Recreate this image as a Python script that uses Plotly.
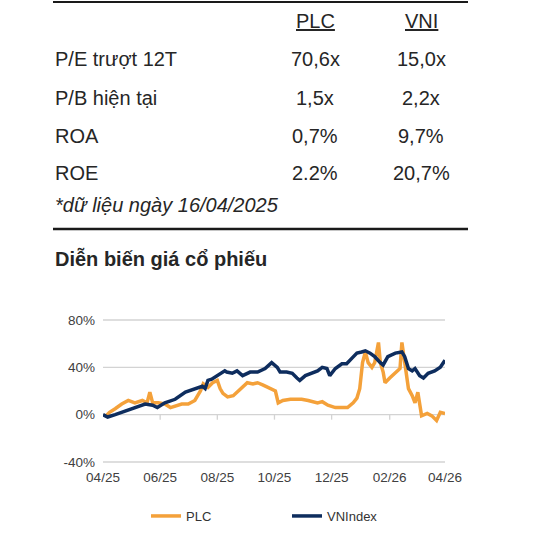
import pandas as pd
import plotly.graph_objects as go

# ---------------- data ----------------
table_rows = ["P/E trượt 12T", "P/B hiện tại", "ROA", "ROE"]
plc_vals = ["70,6x", "1,5x", "0,7%", "2.2%"]
vni_vals = ["15,0x", "2,2x", "9,7%", "20,7%"]
col_heads = ["PLC", "VNI"]
footnote = "*dữ liệu ngày 16/04/2025"
chart_title = "Diễn biến giá cổ phiếu"

vni_dates = ["2025-04-16", "2025-04-21", "2025-04-29", "2025-05-09", "2025-05-20", "2025-05-31",
             "2025-06-08", "2025-06-13", "2025-06-21", "2025-07-02", "2025-07-13", "2025-07-23",
             "2025-07-31", "2025-08-03", "2025-08-06", "2025-08-10", "2025-08-16", "2025-08-21",
             "2025-08-24", "2025-08-26", "2025-09-01", "2025-09-06", "2025-09-12", "2025-09-20",
             "2025-09-28", "2025-10-06", "2025-10-13", "2025-10-19", "2025-10-22", "2025-10-29",
             "2025-11-04", "2025-11-09", "2025-11-12", "2025-11-18", "2025-11-25", "2025-12-01",
             "2025-12-06", "2025-12-11", "2025-12-14", "2025-12-20", "2025-12-27", "2026-01-01",
             "2026-01-07", "2026-01-12", "2026-01-17", "2026-01-21", "2026-01-26", "2026-01-31",
             "2026-02-06", "2026-02-09", "2026-02-14", "2026-02-22", "2026-03-01", "2026-03-04",
             "2026-03-08", "2026-03-12", "2026-03-15", "2026-03-20", "2026-03-24", "2026-03-29",
             "2026-04-05", "2026-04-11", "2026-04-16"]
vni_vals_ts = [0, -2, 0, 3, 6, 9,
               8, 6, 10, 13, 19, 22,
               24, 22, 29, 30, 33, 35,
               37, 36, 35, 37, 33, 36,
               36, 39, 44, 40, 36, 36,
               35, 31, 29, 33, 35, 37,
               40, 39, 33, 39, 43, 43,
               48, 52, 53, 54, 52, 49,
               44, 42, 49, 52, 53, 49,
               39, 37, 39, 33, 31, 35,
               37, 40, 46]

plc_dates = ["2025-04-18", "2025-04-23", "2025-04-29", "2025-05-06", "2025-05-13", "2025-05-20",
             "2025-05-28", "2025-06-02", "2025-06-05", "2025-06-08", "2025-06-14", "2025-06-21",
             "2025-06-27", "2025-07-02", "2025-07-09", "2025-07-16", "2025-07-23", "2025-07-29",
             "2025-08-01", "2025-08-06", "2025-08-11", "2025-08-16", "2025-08-19", "2025-08-22",
             "2025-08-27", "2025-09-02", "2025-09-07", "2025-09-12", "2025-09-17", "2025-09-23",
             "2025-09-28", "2025-10-04", "2025-10-11", "2025-10-17", "2025-10-20", "2025-10-25",
             "2025-11-02", "2025-11-07", "2025-11-14", "2025-11-21", "2025-11-27", "2025-12-01",
             "2025-12-06", "2025-12-12", "2025-12-20", "2025-12-27", "2026-01-02", "2026-01-08",
             "2026-01-12", "2026-01-15", "2026-01-18", "2026-01-21", "2026-01-24", "2026-01-28",
             "2026-01-31", "2026-02-04", "2026-02-06", "2026-02-09", "2026-02-11", "2026-02-16",
             "2026-02-22", "2026-02-27", "2026-03-01", "2026-03-04", "2026-03-08", "2026-03-12",
             "2026-03-15", "2026-03-18", "2026-03-22", "2026-03-28", "2026-04-02", "2026-04-07",
             "2026-04-11", "2026-04-16"]
plc_vals_ts = [-2, 2, 5, 9, 12, 10,
               12, 10, 19, 10, 10, 9,
               6, 7, 9, 9, 12, 20,
               26, 23, 27, 29, 22, 18,
               15, 16, 20, 23, 27, 26,
               27, 25, 22, 20, 10, 12,
               13, 13, 13, 12, 11, 10,
               11, 8, 6, 6, 6, 10,
               14, 22, 44, 53, 44, 40,
               44, 61, 44, 36, 27, 31,
               35, 39, 61, 44, 22, 16,
               10, 19, -1, 1, -1, -5,
               2, 1]

tick_dates = ["2025-04-16", "2025-06-16", "2025-08-16", "2025-10-16", "2025-12-16", "2026-02-16", "2026-04-16"]
tick_labels = ["04/25", "06/25", "08/25", "10/25", "12/25", "02/26", "04/26"]
y_ticks = [-40, 0, 40, 80]
y_tick_labels = ["-40%", "0%", "40%", "80%"]

# ---------------- styling ----------------
W, H = 559, 533
FONT = "Liberation Sans, Arial, sans-serif"
TXT = "#262626"
ORANGE = "#F4A13A"
NAVY = "#0E2D5E"
GRID = "#d3d3d3"

X_RANGE = [tick_dates[0], tick_dates[-1]]
Y_RANGE = [-40, 80]

def px(xp):
    return xp / W

def py(yp):
    return 1 - yp / H

y0, y1 = py(462), py(320)
x0, x1 = px(103), px(445)

# axis value -> paper fraction, following the axis domain and range set below
def y_to_paper(v):
    return y0 + (v - Y_RANGE[0]) / (Y_RANGE[1] - Y_RANGE[0]) * (y1 - y0)

def x_to_paper(d):
    t0, t1 = pd.Timestamp(X_RANGE[0]), pd.Timestamp(X_RANGE[1])
    return x0 + (pd.Timestamp(d) - t0) / (t1 - t0) * (x1 - x0)

fig = go.Figure()
fig.add_trace(go.Scatter(x=plc_dates, y=plc_vals_ts, mode="lines", name="PLC",
                         line=dict(color=ORANGE, width=3.5)))
fig.add_trace(go.Scatter(x=vni_dates, y=vni_vals_ts, mode="lines", name="VNIndex",
                         line=dict(color=NAVY, width=3.5)))

fig.update_layout(
    template="none",
    width=W, height=H, autosize=False,
    margin=dict(l=0, r=0, t=0, b=0, pad=0, autoexpand=False),
    paper_bgcolor="white", plot_bgcolor="rgba(0,0,0,0)",
    font=dict(family=FONT, color=TXT),
    showlegend=True,
    legend=dict(orientation="h", x=px(146), y=py(516), xanchor="left", yanchor="middle",
                font=dict(size=13, color="#333333", family=FONT),
                entrywidth=96, bgcolor="rgba(0,0,0,0)", borderwidth=0),
    xaxis=dict(domain=[x0, x1], range=X_RANGE, type="date",
               tickmode="array", tickvals=tick_dates, ticktext=tick_labels,
               showgrid=False, showline=False, zeroline=False, ticks="",
               ticklabelstandoff=5,
               tickfont=dict(size=13.5, color="#404040"), automargin=False),
    yaxis=dict(domain=[y0, y1], range=Y_RANGE, tickmode="array",
               tickvals=y_ticks, ticktext=y_tick_labels,
               showgrid=False, zeroline=False, showline=False,
               ticks="", ticklabelstandoff=7,
               tickfont=dict(size=13.5, color="#404040"), automargin=False),
)

# horizontal gridlines at the y ticks
for v in y_ticks:
    yy = y_to_paper(v)
    fig.add_shape(type="line", xref="paper", yref="paper", x0=x0, x1=x1, y0=yy, y1=yy,
                  line=dict(color=GRID, width=1.3), layer="below")
# small tick marks hanging from the 0% line at the x ticks
y_zero = y_to_paper(0)
for d in tick_dates[1:-1]:
    xx = x_to_paper(d)
    fig.add_shape(type="line", xref="paper", yref="paper", x0=xx, x1=xx,
                  y0=y_zero, y1=y_zero - 5 / H,
                  line=dict(color=GRID, width=1.3), layer="below")

# table annotations
row_y = [59, 98, 136, 173]
for i, lab in enumerate(table_rows):
    fig.add_annotation(x=px(53), y=py(row_y[i]), xref="paper", yref="paper", text=lab,
                       showarrow=False, xanchor="left", yanchor="middle",
                       font=dict(size=20, color=TXT, family=FONT))
    fig.add_annotation(x=px(315), y=py(row_y[i]), xref="paper", yref="paper", text=plc_vals[i],
                       showarrow=False, xanchor="center", yanchor="middle",
                       font=dict(size=20, color=TXT, family=FONT))
    fig.add_annotation(x=px(421), y=py(row_y[i]), xref="paper", yref="paper", text=vni_vals[i],
                       showarrow=False, xanchor="center", yanchor="middle",
                       font=dict(size=20, color=TXT, family=FONT))

for xc, head in zip([315, 421], col_heads):
    fig.add_annotation(x=px(xc), y=py(21), xref="paper", yref="paper", text=f"<u>{head}</u>",
                       showarrow=False, xanchor="center", yanchor="middle",
                       font=dict(size=20, color=TXT, family=FONT))

fig.add_annotation(x=px(53), y=py(205), xref="paper", yref="paper", text=f"<i>{footnote}</i>",
                   showarrow=False, xanchor="left", yanchor="middle",
                   font=dict(size=20, color=TXT, family=FONT))
fig.add_annotation(x=px(53), y=py(258), xref="paper", yref="paper", text=f"<b>{chart_title}</b>",
                   showarrow=False, xanchor="left", yanchor="middle",
                   font=dict(size=20, color=TXT, family=FONT))

# separator lines
for ly, lw in [(2, 2), (229, 2.5)]:
    fig.add_shape(type="line", xref="paper", yref="paper", x0=px(53), x1=px(468),
                  y0=py(ly), y1=py(ly), line=dict(color="#1a1a1a", width=lw))

fig.write_html("out.html", config={"displayModeBar": False, "staticPlot": True},
               post_script="document.body.style.margin='0';document.body.style.padding='0';")
